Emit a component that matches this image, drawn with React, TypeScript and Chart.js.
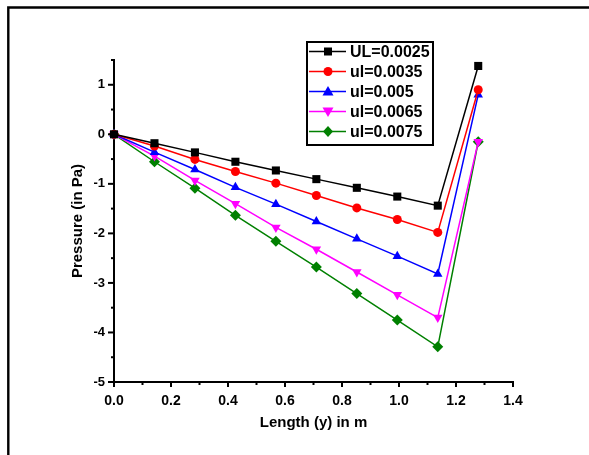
import React, { useEffect, useRef } from 'react';
import { Chart, registerables } from 'chart.js';

Chart.register(...registerables);

const lengths = [0, 0.142, 0.284, 0.426, 0.568, 0.71, 0.852, 0.994, 1.136, 1.278];
const ul0025 = [0, -0.18, -0.365, -0.554, -0.73, -0.905, -1.08, -1.257, -1.44, 1.38];
const ul0035 = [0, -0.236, -0.507, -0.75, -0.986, -1.236, -1.486, -1.72, -1.98, 0.9];
const ul005 = [0, -0.36, -0.71, -1.07, -1.41, -1.76, -2.11, -2.46, -2.82, 0.8];
const ul0065 = [0, -0.44, -0.93, -1.4, -1.88, -2.32, -2.78, -3.24, -3.7, -0.15];
const ul0075 = [0, -0.554, -1.088, -1.635, -2.16, -2.68, -3.216, -3.75, -4.29, -0.15];
const seriesLabels = ['UL=0.0025', 'ul=0.0035', 'ul=0.005', 'ul=0.0065', 'ul=0.0075'];
const seriesValues = [ul0025, ul0035, ul005, ul0065, ul0075];
const seriesColors = ['#000000', '#ff0000', '#0000ff', '#ff00ff', '#008000'];
const seriesShapes = ['rect', 'circle', 'triangle', 'triangleDown', 'rectRot'];
const xTitle = 'Length (y) in m';
const yTitle = 'Pressure (in Pa)';

const FONT = "'Liberation Sans', Arial, sans-serif";

function drawMarker(ctx: CanvasRenderingContext2D, shape: string, x: number, y: number, color: string) {
  ctx.save();
  ctx.fillStyle = color;
  ctx.beginPath();
  if (shape === 'rect') {
    ctx.rect(x - 4, y - 4, 8, 8);
  } else if (shape === 'circle') {
    ctx.arc(x, y, 4.5, 0, Math.PI * 2);
  } else if (shape === 'triangle') {
    ctx.moveTo(x, y - 5.5);
    ctx.lineTo(x + 5.5, y + 4);
    ctx.lineTo(x - 5.5, y + 4);
    ctx.closePath();
  } else if (shape === 'triangleDown') {
    ctx.moveTo(x, y + 5.5);
    ctx.lineTo(x + 5.5, y - 4);
    ctx.lineTo(x - 5.5, y - 4);
    ctx.closePath();
  } else {
    ctx.moveTo(x, y - 5.5);
    ctx.lineTo(x + 5, y);
    ctx.lineTo(x, y + 5.5);
    ctx.lineTo(x - 5, y);
    ctx.closePath();
  }
  ctx.fill();
  ctx.restore();
}

const framePlugin = {
  id: 'frame',
  beforeDraw(chart: any) {
    const ctx = chart.ctx;
    ctx.save();
    ctx.strokeStyle = '#000';
    ctx.lineWidth = 2.4;
    ctx.beginPath();
    ctx.moveTo(8.3, 470);
    ctx.lineTo(8.3, 7.5);
    ctx.lineTo(600, 7.5);
    ctx.stroke();
    ctx.restore();
  },
};

const ticksPlugin = {
  id: 'customTicks',
  afterDraw(chart: any) {
    const ctx = chart.ctx;
    const xs = chart.scales.x;
    const ys = chart.scales.y;
    const area = chart.chartArea;
    ctx.save();
    ctx.strokeStyle = '#000';
    ctx.lineWidth = 2;
    xs.ticks.forEach((t: any) => {
      const px = xs.getPixelForValue(t.value);
      const major = Math.round(t.value * 10) % 2 === 0;
      ctx.beginPath();
      ctx.moveTo(px, area.bottom);
      ctx.lineTo(px, area.bottom + (major ? 5 : 3));
      ctx.stroke();
    });
    ys.ticks.forEach((t: any) => {
      const py = ys.getPixelForValue(t.value);
      const major = Math.abs(t.value - Math.round(t.value)) < 1e-6;
      ctx.beginPath();
      ctx.moveTo(area.left, py);
      ctx.lineTo(area.left - (major ? 6 : 3), py);
      ctx.stroke();
    });
    ctx.restore();
  },
};

const legendPlugin = {
  id: 'boxLegend',
  afterDraw(chart: any) {
    const ctx = chart.ctx;
    ctx.save();
    ctx.fillStyle = '#fff';
    ctx.fillRect(306, 41, 127, 104);
    ctx.strokeStyle = '#000';
    ctx.lineWidth = 2;
    ctx.strokeRect(307, 42, 126, 103);
    ctx.font = `bold 16px ${FONT}`;
    ctx.textBaseline = 'middle';
    ctx.textAlign = 'left';
    seriesLabels.forEach((label, i) => {
      const y = 51.5 + i * 20;
      ctx.strokeStyle = seriesColors[i];
      ctx.lineWidth = 1.5;
      ctx.beginPath();
      ctx.moveTo(309, y);
      ctx.lineTo(346, y);
      ctx.stroke();
      drawMarker(ctx, seriesShapes[i], 328, y, seriesColors[i]);
      ctx.fillStyle = '#000';
      ctx.fillText(label, 350, y + 1);
    });
    ctx.restore();
  },
};

export default function App() {
  const ref = useRef<HTMLCanvasElement | null>(null);
  useEffect(() => {
    if (!ref.current) return;
    const shapeMap: Record<string, any> = {
      rect: 'rect',
      circle: 'circle',
      triangle: 'triangle',
      triangleDown: 'triangle',
      rectRot: 'rectRot',
    };
    const chart = new Chart(ref.current, {
      type: 'line',
      data: {
        datasets: seriesLabels.map((label, i) => ({
          label,
          data: lengths.map((x, j) => ({ x, y: seriesValues[i][j] })),
          borderColor: seriesColors[i],
          backgroundColor: seriesColors[i],
          borderWidth: 1.5,
          pointStyle: shapeMap[seriesShapes[i]],
          pointRotation: seriesShapes[i] === 'triangleDown' ? 180 : 0,
          pointRadius: seriesShapes[i] === 'rect' ? 5.7 : seriesShapes[i] === 'circle' ? 4.5 : 5.5,
          pointBorderWidth: 0,
          tension: 0,
          clip: false as any,
        })),
      },
      options: {
        animation: false,
        responsive: false,
        maintainAspectRatio: false,
        layout: { padding: { top: 60, right: 76, left: 0, bottom: 0 } },
        plugins: { legend: { display: false }, tooltip: { enabled: false } },
        scales: {
          x: {
            type: 'linear',
            min: 0,
            max: 1.4,
            grid: { display: false, drawTicks: false },
            border: { display: true, color: '#000', width: 2 },
            ticks: {
              stepSize: 0.1,
              autoSkip: false,
              maxRotation: 0,
              padding: 11,
              color: '#000',
              font: { family: FONT, size: 14, weight: 'bold' },
              callback: (v: any) => (Math.round(Number(v) * 10) % 2 === 0 ? Number(v).toFixed(1) : ''),
            },
            title: {
              display: true,
              text: xTitle,
              color: '#000',
              font: { family: FONT, size: 15, weight: 'bold' },
              padding: { top: 0, bottom: 23 },
            },
            afterFit: (s: any) => {
              s.height = 73;
            },
          },
          y: {
            type: 'linear',
            min: -5,
            max: 1.5,
            grid: { display: false, drawTicks: false },
            border: { display: true, color: '#000', width: 2 },
            ticks: {
              stepSize: 0.5,
              autoSkip: false,
              padding: 9,
              color: '#000',
              font: { family: FONT, size: 13, weight: 'bold' },
              callback: (v: any) => (Math.abs(Number(v) - Math.round(Number(v))) < 1e-6 ? String(Math.round(Number(v))) : ''),
            },
            title: {
              display: true,
              text: yTitle,
              color: '#000',
              font: { family: FONT, size: 15, weight: 'bold' },
              padding: { top: 69, bottom: 0 },
            },
            afterFit: (s: any) => {
              s.width = 114;
            },
          },
        },
      },
      plugins: [framePlugin, ticksPlugin, legendPlugin],
    });
    return () => chart.destroy();
  }, []);
  return (
    <div style={{ position: 'absolute', left: 0, top: 0, width: 589, height: 455, overflow: 'hidden', background: '#fff' }}>
      <canvas ref={ref} width={589} height={455} style={{ display: 'block' }} />
    </div>
  );
}
